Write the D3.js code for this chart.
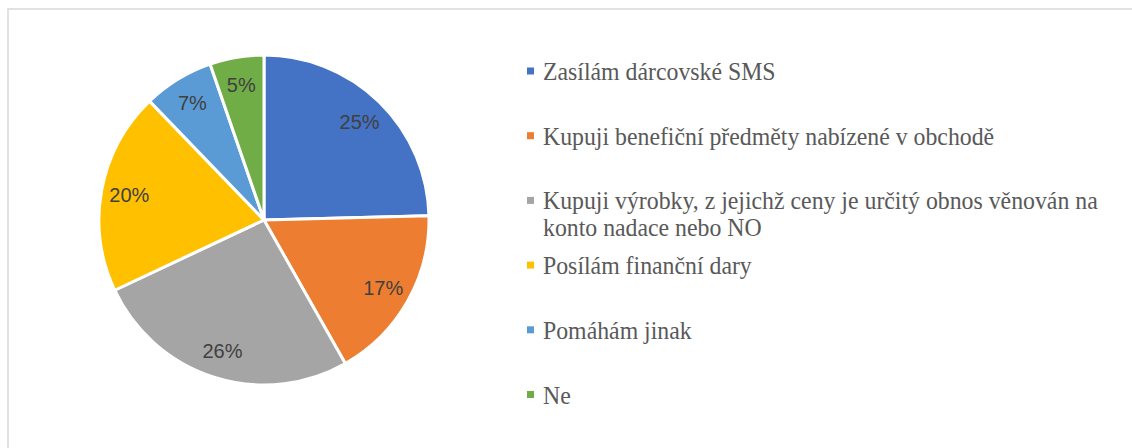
<!DOCTYPE html>
<html>
<head>
<meta charset="utf-8">
<script src="https://cdn.jsdelivr.net/npm/d3@7/dist/d3.min.js"></script>
<style>
  html, body { margin: 0; padding: 0; background: #fff; }
  svg { display: block; }
  .legtext { font-family: "Liberation Serif", "Times New Roman", Tinos, "DejaVu Serif", serif; }
  .pct { font-family: "Liberation Sans", Arial, sans-serif; }
</style>
</head>
<body>
<svg id="chart" width="1132" height="448"></svg>
<script>
const categories = [
  "Zasílám dárcovské SMS",
  "Kupuji benefiční předměty nabízené v obchodě",
  "Kupuji výrobky, z jejichž ceny je určitý obnos věnován na konto nadace nebo NO",
  "Posílám finanční dary",
  "Pomáhám jinak",
  "Ne"
];
const values = [24.6, 17.2, 26.2, 19.8, 6.9, 5.3];
const colors = ["#4472C4", "#ED7D31", "#A5A5A5", "#FFC000", "#5B9BD5", "#70AD47"];

const svg = d3.select("#chart");
const W = 1132, H = 448;

svg.append("rect").attr("width", W).attr("height", H).attr("fill", "#fff");
svg.append("rect")
  .attr("x", 8).attr("y", 9).attr("width", W + 20).attr("height", H + 20)
  .attr("fill", "none").attr("stroke", "#D9D9D9").attr("stroke-width", 1.5);

const cx = 264, cy = 220, R = 165;
const data = categories.map((c, i) => ({ name: c, value: values[i], color: colors[i] }));
const total = d3.sum(values);

const pie = d3.pie().value(d => d.value).sort(null);
const arc = d3.arc().innerRadius(0).outerRadius(R);
const labelArc = d3.arc().innerRadius(R * 0.83).outerRadius(R * 0.83);

const g = svg.append("g").attr("transform", `translate(${cx},${cy})`);
const arcs = pie(data);

g.selectAll("path.slice").data(arcs).join("path")
  .attr("class", "slice")
  .attr("d", arc)
  .attr("fill", d => d.data.color)
  .attr("stroke", "#fff")
  .attr("stroke-width", 3)
  .attr("stroke-linejoin", "round");

g.selectAll("text.pct").data(arcs).join("text")
  .attr("class", "pct")
  .attr("transform", d => `translate(${labelArc.centroid(d)})`)
  .attr("text-anchor", "middle")
  .attr("dy", "0.36em")
  .attr("font-size", 20)
  .attr("fill", "#404040")
  .text(d => Math.round(d.data.value / total * 100) + "%");

// Legend
const lx = 543, ly0 = 80, step = 64.7, lineH = 27, maxW = 585, sy = 1.05;
const leg = svg.append("g");
data.forEach((d, i) => {
  const by = ly0 + i * step;
  leg.append("rect")
    .attr("x", 527).attr("y", by - 12.5).attr("width", 7).attr("height", 7)
    .attr("fill", d.color);
  const t = leg.append("text")
    .attr("class", "legtext")
    .attr("transform", `translate(${lx},${by}) scale(1,${sy})`)
    .attr("font-size", 23.8)
    .attr("fill", "#595959");
  const words = d.name.split(" ");
  let line = [];
  let tspan = t.append("tspan").attr("x", 0).attr("y", 0);
  let lineNo = 0;
  words.forEach(w => {
    line.push(w);
    tspan.text(line.join(" "));
    if (tspan.node().getComputedTextLength() > maxW && line.length > 1) {
      line.pop();
      tspan.text(line.join(" "));
      line = [w];
      lineNo++;
      tspan = t.append("tspan").attr("x", 0).attr("y", lineNo * lineH / sy).text(w);
    }
  });
});
</script>
</body>
</html>
